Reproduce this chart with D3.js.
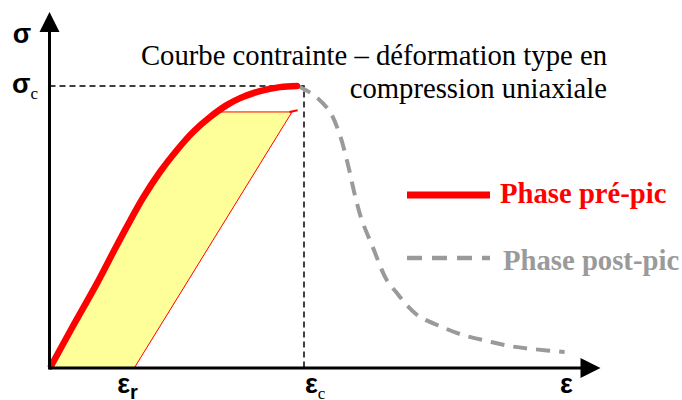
<!DOCTYPE html>
<html>
<head>
<meta charset="utf-8">
<script src="https://cdn.jsdelivr.net/npm/d3@7"></script>
<style>
  html, body { margin: 0; padding: 0; background: #fff; }
  svg { display: block; }
</style>
</head>
<body>
<svg id="chart" width="682" height="400"></svg>
<script>
// Strain is expressed relative to the peak strain (εc = 1), stress relative to the peak stress (σc = 1).
const axisMax = { strain: 2.165, stress: 1.262 };

// Pre-peak branch (ε, σ)
const prePeak = [
  [0.006, 0.007], [0.088, 0.142], [0.187, 0.301], [0.257, 0.422], [0.316, 0.521],
  [0.367, 0.603], [0.434, 0.695], [0.501, 0.773], [0.564, 0.837], [0.631, 0.890],
  [0.698, 0.933], [0.749, 0.957], [0.827, 0.982], [0.906, 0.996], [0.972, 1.0]
];

// Post-peak branch (ε, σ)
const postPeak = [
  [0.976, 1.0], [1.043, 0.965], [1.102, 0.908], [1.141, 0.826], [1.173, 0.72],
  [1.2, 0.613], [1.227, 0.525], [1.267, 0.436], [1.325, 0.312], [1.365, 0.266],
  [1.404, 0.223], [1.451, 0.184], [1.533, 0.149], [1.624, 0.117], [1.718, 0.096],
  [1.808, 0.078], [1.902, 0.067], [2.024, 0.057]
];

// Unloading from a point on the pre-peak branch down to the residual strain εr
const unloadStress = 0.908;
const unloadStrain = 0.953;
const residualStrain = 0.333;
const peakStrain = 1.0;
const peakStress = 1.0;

const xTickLabels = [
  { value: residualStrain, main: "ε", sub: "r", subBold: true },
  { value: peakStrain, main: "ε", sub: "c", subBold: false }
];
const yTickLabels = [
  { value: peakStress, main: "σ", sub: "c" }
];
const titleLines = ["Courbe contrainte – déformation type en", "compression uniaxiale"];
const legendItems = [
  { label: "Phase pré-pic", color: "#ff0000", dash: null, width: 7 },
  { label: "Phase post-pic", color: "#9a9a9a", dash: "15,10", width: 4.5 }
];

const svg = d3.select("#chart");
const x = d3.scaleLinear().domain([0, 1]).range([49.5, 304]);
const y = d3.scaleLinear().domain([0, 1]).range([368, 86]);

const serif = "'Liberation Serif', 'Times New Roman', serif";
const sans = "'Liberation Sans', Arial, sans-serif";

// Yellow area: under the pre-peak curve, below the unloading stress and left of the unloading line
const defs = svg.append("defs");
defs.append("clipPath").attr("id", "unloadClip")
  .append("path")
  .attr("d", d3.line()([
    [x(0), y(0)], [x(0), y(unloadStress)], [x(unloadStrain), y(unloadStress)], [x(residualStrain), y(0)]
  ]) + "Z");

const curve = d3.curveCatmullRom.alpha(0.5);

svg.append("path")
  .datum(prePeak)
  .attr("clip-path", "url(#unloadClip)")
  .attr("fill", "#ffff99")
  .attr("d", d3.area().x(d => x(d[0])).y0(y(0)).y1(d => y(d[1])).curve(curve));

// Thin outline of the unloading path
svg.append("path")
  .attr("fill", "none")
  .attr("stroke", "#ff0000")
  .attr("stroke-width", 1)
  .attr("d", d3.line()([
    [x(0.66), y(unloadStress)], [x(unloadStrain), y(unloadStress)], [x(residualStrain), y(0)]
  ]));
svg.append("path")
  .attr("fill", "none")
  .attr("stroke", "#ff0000")
  .attr("stroke-width", 2)
  .attr("d", d3.line()([[x(unloadStrain - 0.01), y(unloadStress)], [x(unloadStrain + 0.022), y(unloadStress + 0.006)]]));

// Peak reference lines
svg.append("path")
  .attr("fill", "none")
  .attr("stroke", "#000")
  .attr("stroke-width", 1.5)
  .attr("stroke-dasharray", "6,4")
  .attr("d", d3.line()([[x(0), y(peakStress)], [x(peakStrain), y(peakStress)], [x(peakStrain), y(0)]]));

// Post-peak branch
svg.append("path")
  .datum(postPeak)
  .attr("fill", "none")
  .attr("stroke", legendItems[1].color)
  .attr("stroke-width", 4)
  .attr("stroke-dasharray", "14,9")
  .attr("d", d3.line().x(d => x(d[0])).y(d => y(d[1])).curve(curve));

// Pre-peak branch
svg.append("path")
  .datum(prePeak)
  .attr("fill", "none")
  .attr("stroke", legendItems[0].color)
  .attr("stroke-width", 6.5)
  .attr("stroke-linecap", "round")
  .attr("d", d3.line().x(d => x(d[0])).y(d => y(d[1])).curve(curve));

// Axes with arrowheads
const x0 = x(0), y0 = y(0);
const xEnd = x(axisMax.strain), yEnd = y(axisMax.stress);
svg.append("line").attr("x1", x0).attr("y1", y0).attr("x2", xEnd - 18).attr("y2", y0)
  .attr("stroke", "#000").attr("stroke-width", 3);
svg.append("line").attr("x1", x0).attr("y1", y0 + 1.5).attr("x2", x0).attr("y2", yEnd + 18)
  .attr("stroke", "#000").attr("stroke-width", 3);
svg.append("path").attr("fill", "#000")
  .attr("d", `M${xEnd},${y0} L${xEnd - 20},${y0 - 10} L${xEnd - 20},${y0 + 10} Z`);
svg.append("path").attr("fill", "#000")
  .attr("d", `M${x0},${yEnd} L${x0 - 10},${yEnd + 20} L${x0 + 10},${yEnd + 20} Z`);

// Axis names
svg.append("text").attr("x", 22).attr("y", 43)
  .attr("text-anchor", "middle")
  .attr("font-family", sans).attr("font-weight", "bold").attr("font-size", 27)
  .text("σ");
svg.append("text").attr("x", xEnd - 34).attr("y", 393)
  .attr("text-anchor", "middle")
  .attr("font-family", sans).attr("font-weight", "bold").attr("font-size", 27)
  .text("ε");

// Stress tick labels
yTickLabels.forEach(t => {
  const g = svg.append("text").attr("x", 12).attr("y", y(t.value) + 7)
    .attr("font-family", sans).attr("font-weight", "bold").attr("font-size", 27);
  g.append("tspan").text(t.main);
  g.append("tspan").attr("dy", 6).attr("font-family", serif).attr("font-weight", "normal")
    .attr("font-size", 17).text(t.sub);
});

// Strain tick labels
xTickLabels.forEach(t => {
  const g = svg.append("text")
    .attr("x", t.subBold ? x(t.value) - 17 : x(t.value) + 1)
    .attr("y", 393)
    .attr("font-family", sans).attr("font-weight", "bold").attr("font-size", 27);
  g.append("tspan").text(t.main);
  g.append("tspan").attr("dy", 6)
    .attr("font-family", t.subBold ? sans : serif)
    .attr("font-weight", t.subBold ? "bold" : "normal")
    .attr("font-size", t.subBold ? 20 : 17)
    .text(t.sub);
});

// Title
titleLines.forEach((line, i) => {
  svg.append("text").attr("x", 607).attr("y", 65 + i * 33)
    .attr("text-anchor", "end")
    .attr("font-family", serif).attr("font-size", 28.7)
    .attr("fill", "#000")
    .text(line);
});

// Legend
legendItems.forEach((item, i) => {
  const ly = 195 + i * 63;
  svg.append("line").attr("x1", 407).attr("x2", 490).attr("y1", ly).attr("y2", ly)
    .attr("stroke", item.color).attr("stroke-width", item.width)
    .attr("stroke-dasharray", item.dash);
  svg.append("text").attr("x", 500 + i * 3).attr("y", ly + 8 + i * 4)
    .attr("font-family", serif).attr("font-weight", "bold").attr("font-size", 28.7)
    .attr("fill", item.color)
    .text(item.label);
});
</script>
</body>
</html>
